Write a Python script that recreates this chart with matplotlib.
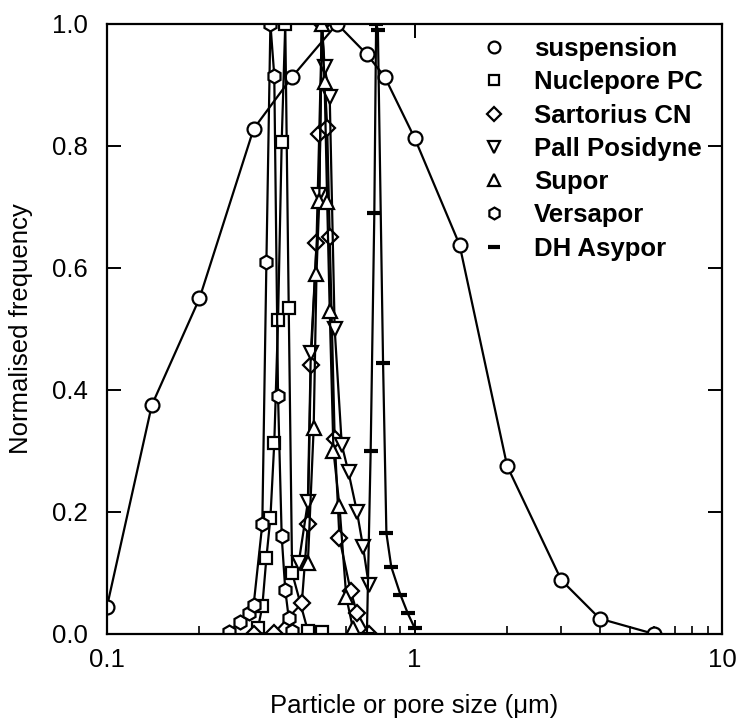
import matplotlib.pyplot as plt
from matplotlib.ticker import LogLocator, NullFormatter

plt.rcParams['font.family'] = ['Liberation Sans', 'DejaVu Sans']

# size distributions (normalised) for the suspension and each membrane
susp_x = [0.1, 0.14, 0.2, 0.3, 0.4, 0.56, 0.7, 0.8, 1.0, 1.4, 2.0, 3.0, 4.0, 6.0]
susp_y = [0.044, 0.375, 0.55, 0.828, 0.913, 1.0, 0.95, 0.913, 0.813, 0.638, 0.275, 0.088, 0.025, 0.0]

nuc_x = [0.31, 0.32, 0.33, 0.34, 0.35, 0.36, 0.37, 0.38, 0.39, 0.40, 0.45, 0.50]
nuc_y = [0.01, 0.045, 0.125, 0.19, 0.313, 0.515, 0.807, 1.0, 0.534, 0.1, 0.005, 0.003]

sart_x = [0.30, 0.35, 0.43, 0.45, 0.46, 0.48, 0.49, 0.50, 0.52, 0.53, 0.55, 0.57, 0.62, 0.65, 0.71]
sart_y = [0.0, 0.002, 0.05, 0.18, 0.44, 0.64, 0.82, 1.0, 0.83, 0.65, 0.32, 0.157, 0.07, 0.035, 0.0]

pall_x = [0.42, 0.45, 0.46, 0.49, 0.50, 0.51, 0.53, 0.55, 0.58, 0.61, 0.65, 0.68, 0.71]
pall_y = [0.116, 0.216, 0.46, 0.72, 1.0, 0.93, 0.88, 0.5, 0.31, 0.265, 0.2, 0.143, 0.08]

supor_x = [0.45, 0.47, 0.48, 0.49, 0.50, 0.51, 0.52, 0.53, 0.545, 0.57, 0.60, 0.63]
supor_y = [0.116, 0.337, 0.59, 0.71, 1.0, 0.905, 0.708, 0.53, 0.3, 0.21, 0.06, 0.01]

vers_x = [0.25, 0.27, 0.29, 0.30, 0.32, 0.33, 0.34, 0.35, 0.36, 0.37, 0.38, 0.39, 0.40]
vers_y = [0.003, 0.02, 0.035, 0.048, 0.18, 0.61, 1.0, 0.915, 0.39, 0.16, 0.072, 0.026, 0.005]

dh_x = [0.70, 0.72, 0.74, 0.75, 0.76, 0.79, 0.81, 0.84, 0.90, 0.95, 1.0]
dh_y = [0.0, 0.3, 0.69, 1.0, 0.99, 0.444, 0.165, 0.11, 0.064, 0.034, 0.01]

series = [
    (susp_x, susp_y, 'o', 'suspension'),
    (nuc_x, nuc_y, 's', 'Nuclepore PC'),
    (sart_x, sart_y, 'D', 'Sartorius CN'),
    (pall_x, pall_y, 'v', 'Pall Posidyne'),
    (supor_x, supor_y, '^', 'Supor'),
    (vers_x, vers_y, 'h', 'Versapor'),
    (dh_x, dh_y, '_', 'DH Asypor'),
]

fig = plt.figure(figsize=(7.37, 7.22), dpi=100)
ax = fig.add_axes([0.145, 0.122, 0.835, 0.845])

for x, y, m, lab in series:
    if m == '_':
        ax.plot(x, y, color='black', lw=1.6, marker='_', ms=10, mew=3, label=lab)
    else:
        ms = {'o': 10, 's': 9, 'D': 8, 'v': 9.5, '^': 9.5, 'h': 10}[m]
        ax.plot(x, y, color='black', lw=1.6, marker=m, ms=ms, mfc='white',
                mec='black', mew=1.6, label=lab)

ax.set_xscale('log')
ax.set_xlim(0.1, 10)
ax.set_ylim(0, 1.0)
ax.set_xticks([0.1, 1, 10])
ax.set_xticklabels(['0.1', '1', '10'])
ax.xaxis.set_minor_locator(LogLocator(base=10, subs=range(2, 10)))
ax.xaxis.set_minor_formatter(NullFormatter())
ax.set_yticks([0.0, 0.2, 0.4, 0.6, 0.8, 1.0])
ax.set_yticklabels(['0.0', '0.2', '0.4', '0.6', '0.8', '1.0'])

ax.tick_params(which='major', direction='in', length=10, width=1.4,
               top=True, right=True, labelsize=18.5)
ax.tick_params(axis='y', pad=13.5)
ax.tick_params(axis='x', which='major', pad=10)
ax.tick_params(which='minor', direction='in', length=6, width=1.2,
               top=False, right=False)
for s in ax.spines.values():
    s.set_linewidth(1.6)

ax.set_xlabel('Particle or pore size (μm)', fontsize=18.5, labelpad=16)
ax.set_ylabel('Normalised frequency', fontsize=18.5, labelpad=14)

leg = ax.legend(loc='upper right', frameon=False, prop={'weight': 'bold', 'size': 18.5},
                handlelength=1.0, handletextpad=1.05, labelspacing=0.36,
                markerscale=0.85, borderaxespad=0.0, bbox_to_anchor=(0.985, 0.995))
for h in leg.legend_handles:
    h.set_linestyle('none')

fig.savefig('out.png', dpi=100)
